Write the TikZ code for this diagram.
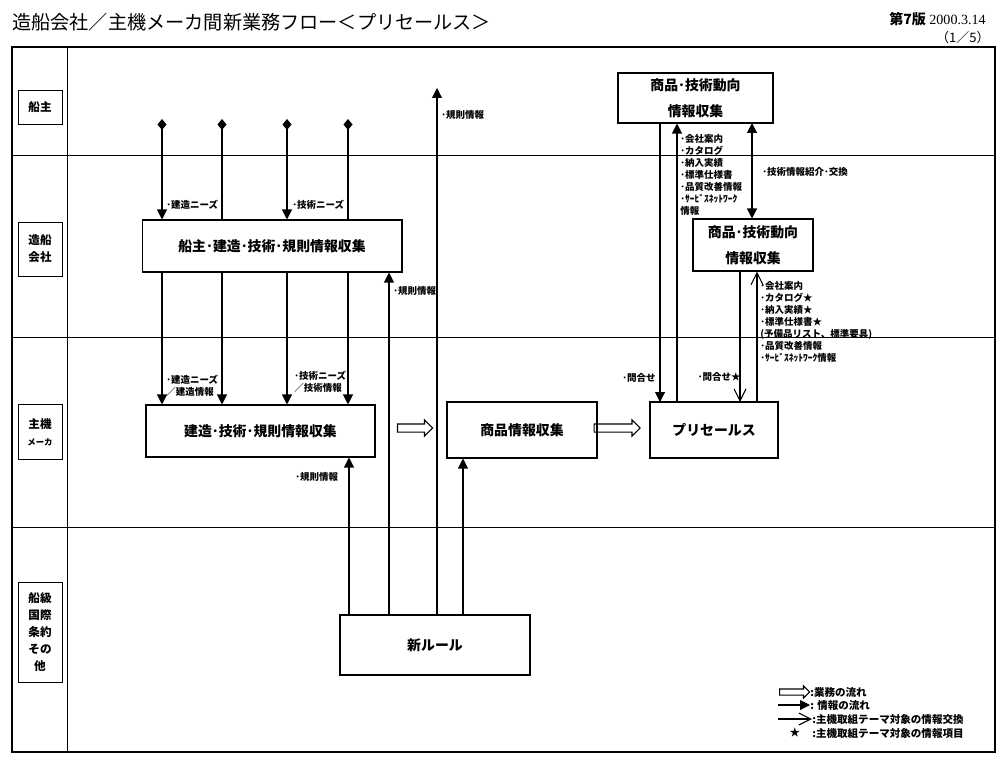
\documentclass[tikz,border=0pt]{standalone}
\usepackage{fontspec}
\setmainfont{Liberation Serif}
\newfontfamily\jp{Noto Sans CJK JP}
\usetikzlibrary{shapes.arrows,positioning,calc,arrows.meta}

\tikzset{
  lanebox/.style={draw, line width=0.5pt, inner sep=0pt, align=center, minimum width=0.88cm,
    font=\jp\bfseries\fontsize{6.6pt}{9.6pt}\selectfont},
  procbox/.style={draw, line width=0.6pt, inner sep=0pt, align=center,
    font=\jp\bfseries\fontsize{7.9pt}{10pt}\selectfont},
  note/.style={inner sep=0pt, align=left, font=\jp\bfseries\fontsize{5.4pt}{6.8pt}\selectfont},
  legendtext/.style={inner sep=0pt, anchor=west, font=\jp\bfseries\fontsize{6pt}{7pt}\selectfont},
  info/.style={line width=0.6pt, -{Triangle[length=0.2cm,width=0.2cm]}},
  xchg/.style={line width=0.6pt, -{Straight Barb[length=0.24cm,width=0.24cm]}},
  need/.style={line width=0.6pt, {Diamond[length=0.22cm,width=0.18cm]}-{Triangle[length=0.2cm,width=0.2cm]}},
  needline/.style={line width=0.6pt, {Diamond[length=0.22cm,width=0.18cm]}-},
  flow/.style={single arrow, draw, line width=0.6pt, inner xsep=0pt, inner ysep=0.07cm,
    single arrow head extend=0.08cm, single arrow head indent=0pt},
}

\begin{document}
\begin{tikzpicture}[x=0.02cm, y=-0.02cm]
    \useasboundingbox (0,0) rectangle (1000,767);

    % header
    \node[anchor=west, inner sep=0pt, font=\jp\fontsize{10.9pt}{12pt}\selectfont] (title) at (12,22)
        {造船会社／主機メーカ間新業務フロー＜プリセールス＞};
    \node[anchor=east, inner sep=0pt, font=\fontsize{8pt}{9pt}\selectfont] (ver) at (986,19)
        {{\jp\bfseries 第7版} 2000.3.14};
    \node[anchor=east, inner sep=0pt, font=\jp\fontsize{7.4pt}{8pt}\selectfont] (page) at (990,38) {（1／5）};

    % lanes
    \draw[line width=0.9pt] (12,47) rectangle (995,752);
    \draw[line width=0.5pt] (67,47) -- (67,752);
    \draw[line width=0.5pt] (12,155) -- (995,155);
    \draw[line width=0.5pt] (12,337) -- (995,337);
    \draw[line width=0.5pt] (12,527) -- (995,527);

    \node[lanebox, minimum height=0.68cm] (owner) at (40,107) {船主};
    \node[lanebox, minimum height=1.08cm] (yard) at (40,249) {造船\\会社};
    \node[lanebox, minimum height=1.1cm] (maker) at (40,432) {主機\\{\fontsize{4.8pt}{6pt}\selectfont メーカ}};
    \node[lanebox, minimum height=2.0cm] (rules) at (40,632) {船級\\国際\\条約\\その\\他};

    % boxes
    \node[procbox, minimum width=5.2cm, minimum height=1.04cm] (A) at (272,246) {船主･建造･技術･規則情報収集};
    \node[procbox, minimum width=4.58cm, minimum height=1.04cm] (B) at (260.5,431) {建造･技術･規則情報収集};
    \node[procbox, minimum width=3.0cm, minimum height=1.12cm] (C) at (522,430) {商品情報収集};
    \node[procbox, minimum width=2.56cm, minimum height=1.12cm] (D) at (714,430) {プリセールス};
    \node[procbox, minimum width=3.1cm, minimum height=1.0cm] (E) at (695.5,98) {商品･技術動向\\[5pt]情報収集};
    \node[procbox, minimum width=2.4cm, minimum height=1.04cm] (F) at (753,245) {商品･技術動向\\[5pt]情報収集};
    \node[procbox, minimum width=3.8cm, minimum height=1.2cm] (G) at (435,645) {新ルール};

    \node[flow, minimum height=0.7cm] (f1) at (413,428) {};
    \node[flow, minimum height=0.92cm] (f2) at (615,428) {};

    % needs from owner
    \coordinate (d1) at (162,119);
    \coordinate (d2) at (222,119);
    \coordinate (d3) at (287,119);
    \coordinate (d4) at (348,119);
    \draw[need] (d1) -- (d1 |- A.north);
    \draw[needline] (d2) -- (d2 |- A.north);
    \draw[need] (d3) -- (d3 |- A.north);
    \draw[needline] (d4) -- (d4 |- A.north);
    \draw[info] (d1 |- A.south) -- (d1 |- B.north);
    \draw[info] (d2 |- A.south) -- (d2 |- B.north);
    \draw[info] (d3 |- A.south) -- (d3 |- B.north);
    \draw[info] (d4 |- A.south) -- (d4 |- B.north);

    \node[note, anchor=west] (n1) at (166,205) {･建造ニーズ};
    \node[note, anchor=west] (n2) at (292,205) {･技術ニーズ};
    \node[note, anchor=north west] (n3) at (166,375) {･建造ニーズ\\／建造情報};
    \node[note, anchor=north west] (n4) at (294,371) {･技術ニーズ\\／技術情報};

    % new rules
    \coordinate (g1) at (349,615);
    \coordinate (g2) at (389,615);
    \coordinate (g3) at (437,615);
    \coordinate (g4) at (463,615);
    \coordinate (top) at (437,88);
    \draw[info] (g1) -- (g1 |- B.south);
    \draw[info] (g2) -- (g2 |- A.south);
    \draw[info] (g3) -- (top);
    \draw[info] (g4) -- (g4 |- C.south);

    \node[note, anchor=west] (n5) at (441,115) {･規則情報};
    \node[note, anchor=west] (n6) at (393,291) {･規則情報};
    \node[note, anchor=west] (n7) at (295,477) {･規則情報};

    % presales
    \coordinate (p1) at (660,402);
    \coordinate (p2) at (677,402);
    \coordinate (p3) at (740,402);
    \coordinate (p4) at (757,402);
    \coordinate (t1) at (752,123);
    \draw[info] (p1 |- E.south) -- (p1);
    \draw[info] (p2) -- (p2 |- E.south);
    \draw[line width=0.6pt, {Triangle[length=0.2cm,width=0.2cm]}-{Triangle[length=0.2cm,width=0.2cm]}]
        (t1) -- (t1 |- F.north);
    \draw[xchg] (p3 |- F.south) -- (p3);
    \draw[xchg] (p4) -- (p4 |- F.south);

    \node[note, anchor=north west] (n8) at (680,134)
        {･会社案内\\･カタログ\\･納入実績\\･標準仕様書\\･品質改善情報\\･ｻｰﾋﾞｽﾈｯﾄﾜｰｸ\\情報};
    \node[note, anchor=west] (n9) at (762,172) {･技術情報紹介･交換};
    \node[note, anchor=north west] (n10) at (760,281)
        {･会社案内\\･カタログ★\\･納入実績★\\･標準仕様書★\\(予備品リスト、標準要具)\\･品質改善情報\\･ｻｰﾋﾞｽﾈｯﾄﾜｰｸ情報};
    \node[note, anchor=east] (n11) at (656,378) {･問合せ};
    \node[note, anchor=east] (n12) at (741,377) {･問合せ★};

    % legend
    \node[flow, minimum height=0.6cm, inner ysep=0.05cm, single arrow head extend=0.06cm] (lg1) at (793,692) {};
    \node[legendtext] (lt1) at (810,692) {:業務の流れ};
    \node[legendtext] (lt2) at (810,705) {: 情報の流れ};
    \node[legendtext] (lt3) at (812,719) {:主機取組テーマ対象の情報交換};
    \node[legendtext] (lt4) at (812,733) {:主機取組テーマ対象の情報項目};
    \node[legendtext, anchor=center] (star) at (795,733) {★};
    \coordinate (la) at (778,705);
    \coordinate (lb) at (778,719);
    \draw[info] (la) -- (lt2.west);
    \draw[xchg] (lb) -- (lt3.west);
\end{tikzpicture}
\end{document}
